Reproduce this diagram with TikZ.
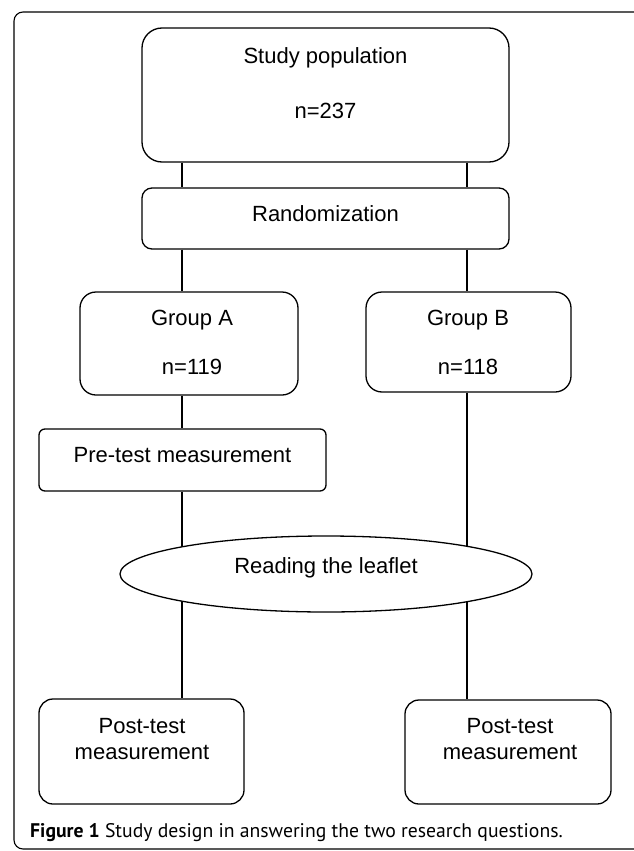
\documentclass[tikz,border=0pt]{standalone}
\usepackage{fontspec}
\setmainfont{Liberation Sans}
\newfontfamily\capfont{PT Sans}
\usetikzlibrary{shapes.geometric,backgrounds}
\tikzset{
  flowbox/.style={draw,line width=1.3pt,rounded corners=#1,inner sep=0pt},
  flowbox/.default=12pt,
  oval/.style={draw,ellipse,line width=1.3pt,fill=white,inner sep=0pt},
  link/.style={line width=1.3pt},
  txt/.style={font=\fontsize{22}{26}\selectfont}
}

\begin{document}
\begin{tikzpicture}[x=1pt,y=-1pt]
  \useasboundingbox (0,0) rectangle (633,851);
  \draw[line width=1.1pt,rounded corners=9pt] (14,12) rectangle (645,849);
  \coordinate (colA) at (182,0);
  \coordinate (colB) at (467,0);

  \node[flowbox=20pt,minimum width=367pt,minimum height=134pt] (pop) at (325.5,95) {};
  \node[txt] (popname) at (325.5,58) {Study population};
  \node[txt] (popn) at (325.5,111) {n=237};

  \node[flowbox=10pt,minimum width=367pt,minimum height=61pt] (rand) at (325.5,218.5) {};
  \node[txt] (randname) at (325.5,214) {Randomization};

  \node[flowbox=16pt,minimum width=218pt,minimum height=103pt] (grpA) at (189,343.5) {};
  \node[txt] (grpAname) at (192,320) {Group A};
  \node[txt] (grpAn) at (192,367) {n=119};

  \node[flowbox=16pt,minimum width=205pt,minimum height=100pt] (grpB) at (468.5,342) {};
  \node[txt] (grpBname) at (468,320) {Group B};
  \node[txt] (grpBn) at (468,367) {n=118};

  \node[flowbox=6pt,minimum width=287pt,minimum height=62pt] (pre) at (182.5,460) {};
  \node[txt] (prename) at (182.5,455) {Pre-test measurement};

  \node[oval,minimum width=412pt,minimum height=76pt] (read) at (326,574) {};
  \node[txt] (readname) at (326,568) {Reading the leaflet};

  \node[flowbox=14pt,minimum width=205pt,minimum height=105pt] (postA) at (141.5,751.5) {};
  \node[txt] (postAname1) at (142,726) {Post-test};
  \node[txt] (postAname2) at (142,752) {measurement};

  \node[flowbox=14pt,minimum width=206pt,minimum height=104pt] (postB) at (508,752) {};
  \node[txt] (postBname1) at (510,726) {Post-test};
  \node[txt] (postBname2) at (510,752) {measurement};

  \begin{pgfonlayer}{background}
    \draw[link] (pop.south -| colA) -- (rand.north -| colA);
    \draw[link] (pop.south -| colB) -- (rand.north -| colB);
    \draw[link] (rand.south -| colA) -- (grpA.north -| colA);
    \draw[link] (rand.south -| colB) -- (grpB.north -| colB);
    \draw[link] (grpA.south -| colA) -- (pre.north -| colA);
    \draw[link] (pre.south -| colA) -- (read.center -| colA);
    \draw[link] (grpB.south -| colB) -- (read.center -| colB);
    \draw[link] (read.center -| colA) -- (postA.north -| colA);
    \draw[link] (read.center -| colB) -- (postB.north -| colB);
  \end{pgfonlayer}

  \node[anchor=base west,inner sep=0pt,font=\capfont\fontsize{19.7}{23}\selectfont] (caption) at (30,837)
    {\textbf{Figure 1} Study design in answering the two research questions.};
\end{tikzpicture}
\end{document}
